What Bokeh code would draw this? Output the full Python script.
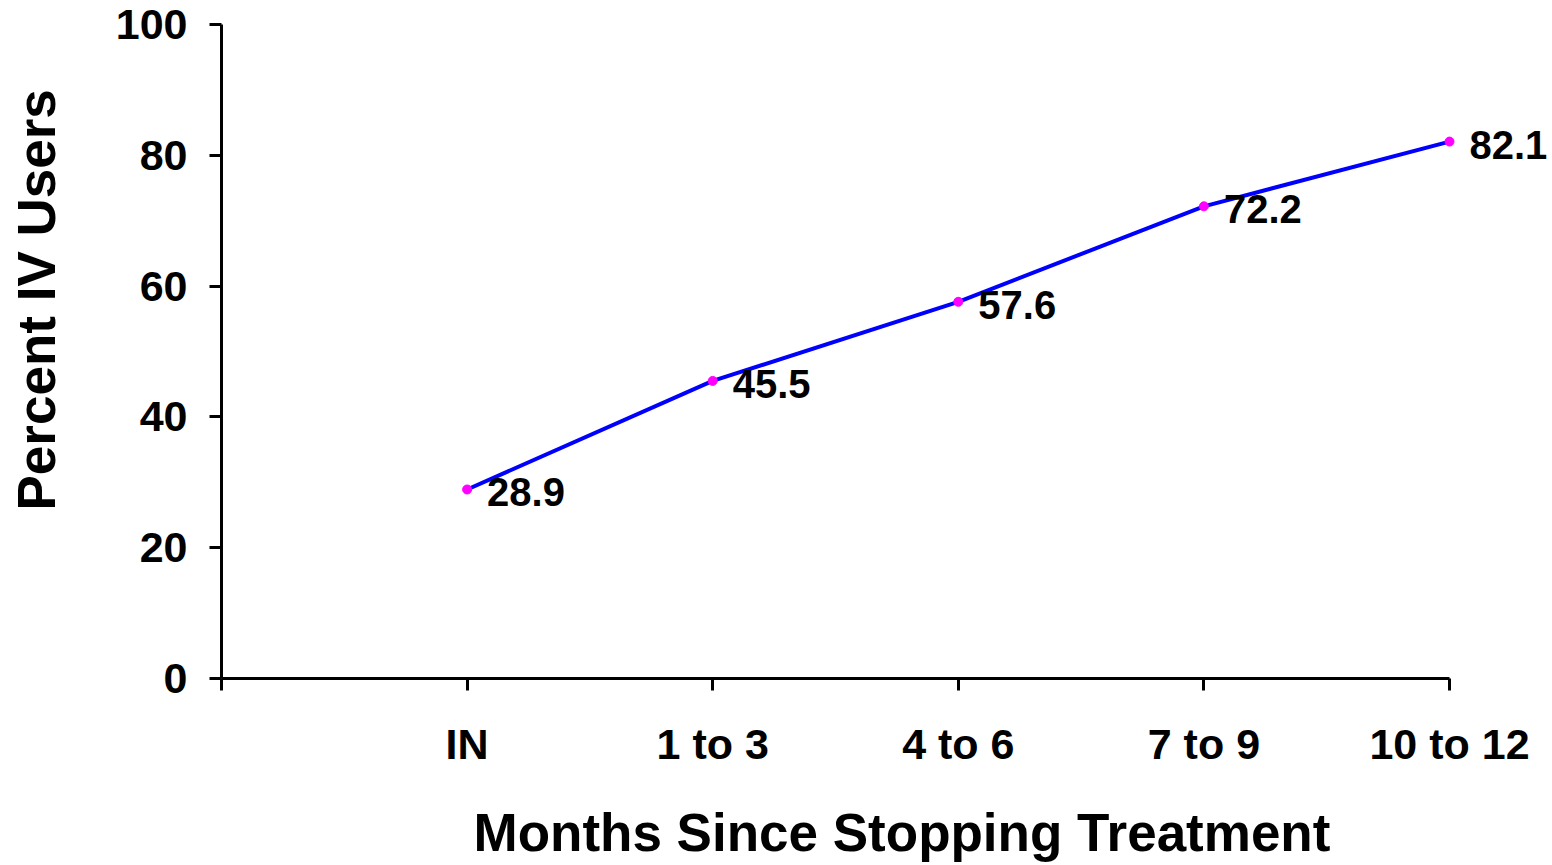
from bokeh.plotting import figure
from bokeh.models import ColumnDataSource, FixedTicker, Range1d, Title
from bokeh.core.properties import value
from bokeh.embed import file_html
from bokeh.resources import INLINE

# ---- data ----
categories = ["IN", "1 to 3", "4 to 6", "7 to 9", "10 to 12"]
percent_iv = [28.9, 45.5, 57.6, 72.2, 82.1]
y_ticks = [0, 20, 40, 60, 80, 100]
x_title = "Months Since Stopping Treatment"
y_title = "Percent IV Users"

positions = list(range(1, len(categories) + 1))
point_labels = [f"{v:.1f}" for v in percent_iv]
src = ColumnDataSource(dict(x=positions, y=percent_iv, label=point_labels))

# ---- layout ----
FONT = "Liberation Sans"
n = len(categories)
LEFT, TOP, FRAME_H, AXIS_W = 221, 24, 654, 1228
W, H = 1548, 865
frame_w = W - LEFT
unit_px = AXIS_W / n

p = figure(width=W, height=H, frame_width=frame_w, frame_height=FRAME_H,
           min_border_left=LEFT, min_border_right=0,
           min_border_top=TOP, min_border_bottom=H - TOP - FRAME_H,
           x_range=Range1d(0, frame_w / unit_px), y_range=Range1d(0, 100),
           output_backend="svg", toolbar_location=None)
p.grid.visible = False
p.outline_line_color = None
p.background_fill_color = "white"
p.border_fill_color = "white"

p.line(x="x", y="y", source=src, line_color="#0000FF", line_width=4)
p.scatter(x="x", y="y", source=src, marker="circle", size=9,
          fill_color="#FF00FF", line_color="#FF00FF")
p.text(x="x", y="y", text="label", source=src, x_offset=20, y_offset=3,
       text_align="left", text_baseline="middle",
       text_font=value(FONT), text_font_style="bold",
       text_font_size="40px", text_color="black")

for ax in (p.xaxis[0], p.yaxis[0]):
    ax.axis_line_color = "black"
    ax.axis_line_width = 3
    ax.major_tick_line_color = "black"
    ax.major_tick_line_width = 3
    ax.major_tick_out = 12
    ax.major_tick_in = 0
    ax.minor_tick_line_color = None
    ax.major_label_text_font = FONT
    ax.major_label_text_font_style = "bold"
    ax.major_label_text_font_size = "43px"
    ax.major_label_text_color = "black"

xa = p.xaxis[0]
xa.ticker = FixedTicker(ticks=[0] + positions)
xa.bounds = (0, n)
overrides = {0: ""}
for pos, cat in zip(positions, categories):
    overrides[pos] = cat
xa.major_label_overrides = overrides
xa.major_label_standoff = 29

ya = p.yaxis[0]
ya.ticker = FixedTicker(ticks=y_ticks)
ya.major_label_standoff = 22

# axis titles as side-panel titles (off-centre like the reference)
has_padding = "padding" in Title.properties()
xt = Title(text=x_title, align="left", offset=252,
           standoff=17 if has_padding else 21,
           vertical_align="top" if has_padding else "bottom",
           text_font=FONT, text_font_style="bold", text_line_height=1.0,
           text_font_size="53px", text_color="black")
yt = Title(text=y_title, align="left", offset=168,
           standoff=2 if has_padding else 10,
           text_font=FONT, text_font_style="bold",
           text_font_size="53px", text_color="black")
if has_padding:
    # padding order: (left, right, top, bottom) in the text's own frame
    xt.padding = (0, 0, 24, 0)
    yt.padding = (0, 0, 0, 46)
p.add_layout(xt, "below")
p.add_layout(yt, "left")

open("out.html", "w").write(file_html(p, INLINE))
